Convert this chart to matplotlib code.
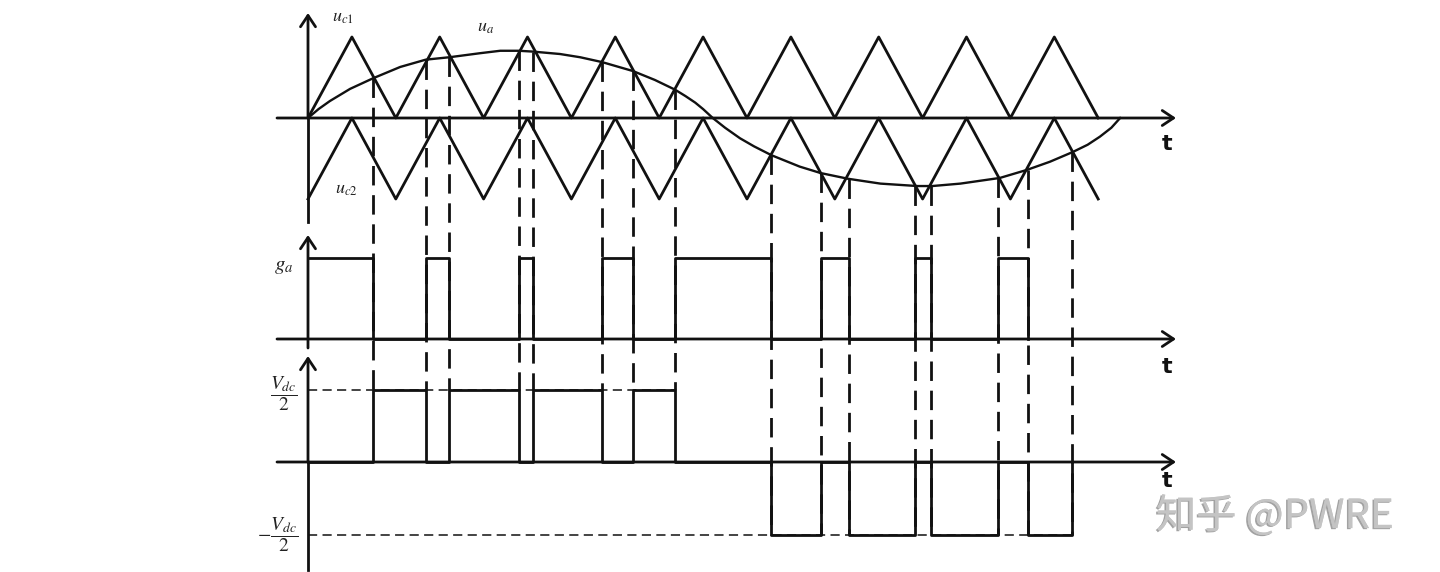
import matplotlib
matplotlib.use("Agg")
import matplotlib.pyplot as plt
import matplotlib.patheffects as pe

plt.rcParams['mathtext.fontset'] = 'stix'

# time is in carrier periods, amplitudes normalised to the carrier peak
carrier_t = [0, 0.5, 1, 1.5, 2, 2.5, 3, 3.5, 4, 4.5, 5, 5.5, 6, 6.5, 7, 7.5, 8, 8.5, 9]
uc1 = [0, 1, 0, 1, 0, 1, 0, 1, 0, 1, 0, 1, 0, 1, 0, 1, 0, 1, 0]
uc2 = [-1, 0, -1, 0, -1, 0, -1, 0, -1, 0, -1, 0, -1, 0, -1, 0, -1, 0, -1]

# modulating wave ua
ua_t = [0, 0.12, 0.25, 0.48, 0.74, 1.05, 1.34, 1.61, 1.96, 2.19, 2.40, 2.56,
        2.87, 3.10, 3.35, 3.70, 3.95, 4.18, 4.30, 4.41, 4.50, 4.61, 4.75, 4.92,
        5.08, 5.28, 5.60, 5.84, 6.15, 6.52, 6.94, 7.11, 7.43, 7.88, 8.19, 8.45,
        8.71, 8.88, 9.02, 9.15, 9.25]
ua = [0, 0.11, 0.21, 0.36, 0.49, 0.63, 0.72, 0.75, 0.80, 0.83, 0.83, 0.82,
      0.79, 0.75, 0.69, 0.58, 0.47, 0.35, 0.27, 0.19, 0.11, 0.0, -0.12, -0.25,
      -0.35, -0.46, -0.60, -0.68, -0.75, -0.81, -0.84, -0.84, -0.81, -0.74, -0.64, -0.54,
      -0.42, -0.33, -0.23, -0.12, 0.0]

# crossing instants (dashed lines) and the ua value at each crossing
switch_t = [0.74, 1.344, 1.606, 2.403, 2.563, 3.349, 3.702, 4.18,
            5.273, 5.843, 6.162, 6.913, 7.096, 7.859, 8.2, 8.702]
switch_ua = [0.49, 0.72, 0.75, 0.83, 0.82, 0.69, 0.58, 0.35,
             -0.46, -0.68, -0.75, -0.84, -0.84, -0.74, -0.64, -0.42]

# gate signal ga (step, post)
ga_t = [0, 0.74, 1.344, 1.606, 2.403, 2.563, 3.349, 3.702, 4.18,
        5.273, 5.843, 6.162, 6.913, 7.096, 7.859, 8.2]
ga = [1, 0, 1, 0, 1, 0, 1, 0, 1, 0, 1, 0, 1, 0, 1, 0]

# output voltage in units of Vdc/2 (step, post)
vo_t = [0, 0.74, 1.344, 1.606, 2.403, 2.563, 3.349, 3.702, 4.18,
        5.273, 5.843, 6.162, 6.913, 7.096, 7.859, 8.2, 8.702]
vo = [0, 1, 0, 1, 0, 1, 0, 1, 0, -1, 0, -1, 0, -1, 0, -1, 0]

W, H = 1440, 572
X0, XS = 308, 87.8          # pixel of t=0 and pixels per carrier period
K = '#111111'
LW = 2.0

fig = plt.figure(figsize=(W / 100, H / 100), dpi=100)


def t_of(px):
    return (px - X0) / XS


def band(y0, y1, zero, scale):
    ax = fig.add_axes([0, 1 - y1 / H, 1, (y1 - y0) / H])
    ax.set_xlim(t_of(0), t_of(W))
    ax.set_ylim((zero - y1) / scale, (zero - y0) / scale)
    ax.axis('off')
    return ax


def arrow(ax, x0, y0, x1, y1):
    ax.annotate('', xy=(x1, y1), xytext=(x0, y0), annotation_clip=False,
                arrowprops=dict(arrowstyle='->,head_length=0.45,head_width=0.3',
                                lw=LW, color=K, shrinkA=0, shrinkB=0,
                                mutation_scale=18))


def px_text(x, y, s, **kw):
    fig.text(x / W, 1 - y / H, s, ha='center', va='center', **kw)


ax_top = band(0, 228, 118, 81)
ax_g = band(228, 350, 339, 81)
ax_v = band(350, 572, 462, 72.5)

# top panel: carriers and reference
ax_top.plot(carrier_t, uc1, color=K, lw=LW, clip_on=False)
ax_top.plot(carrier_t, uc2, color=K, lw=LW, clip_on=False)
ax_top.plot(ua_t, ua, color=K, lw=1.7, clip_on=False, solid_joinstyle='round')
arrow(ax_top, t_of(277), 0, t_of(1176), 0)
ax_top.plot([0, 0], [(118 - 222) / 81, 0], color=K, lw=LW)
arrow(ax_top, 0, 0, 0, (118 - 13) / 81)

# gate panel
ax_g.plot(ga_t, ga, drawstyle='steps-post', color=K, lw=LW, clip_on=False)
arrow(ax_g, t_of(277), 0, t_of(1176), 0)
arrow(ax_g, 0, (339 - 348) / 81, 0, (339 - 235) / 81)

# voltage panel
ax_v.plot([0, switch_t[7]], [1, 1], color=K, lw=1.1, ls=(0, (6, 3.5)))
ax_v.plot([0, switch_t[-1]], [-1, -1], color=K, lw=1.1, ls=(0, (6, 3.5)))
ax_v.plot(vo_t, vo, drawstyle='steps-post', color=K, lw=LW, clip_on=False)
arrow(ax_v, t_of(277), 0, t_of(1176), 0)
ax_v.plot([0, 0], [(462 - 570) / 72.5, 0], color=K, lw=LW)
arrow(ax_v, 0, 0, 0, (462 - 356) / 72.5)

# dashed projections from the crossings down to the output level
for t, u in zip(switch_t, switch_ua):
    disp = ax_top.transData.transform((t, u))
    y_top = ax_v.transData.inverted().transform(disp)[1]
    level = 1 if u > 0 else -1
    ax_v.plot([t, t], [y_top, level], color=K, lw=LW, ls=(0, (7, 3.5)),
              clip_on=False)

# labels
lab = dict(color='#222222')
px_text(343, 17, r'$u_{c1}$', fontsize=13, **lab)
px_text(486, 27, r'$u_{a}$', fontsize=13, **lab)
px_text(346, 189, r'$u_{c2}$', fontsize=13, **lab)
px_text(284, 266, r'$g_{a}$', fontsize=15, **lab)
px_text(284, 394, r'$\dfrac{V_{dc}}{2}$', fontsize=14, **lab)
px_text(278, 535, r'$-\dfrac{V_{dc}}{2}$', fontsize=14, **lab)

for y in (144, 367, 481):
    px_text(1167, y, 't', fontsize=16, fontweight='bold', color=K,
            family='DejaVu Sans')

fig.text(1275 / W, 1 - 516 / H, '知乎 @PWRE', ha='center', va='center',
         fontsize=29, color='#c4c4c4', family=['Noto Sans CJK SC', 'DejaVu Sans'],
         path_effects=[pe.withSimplePatchShadow(offset=(-1.2, -0.8),
                                                shadow_rgbFace='#a2a2a2', alpha=1),
                       pe.Normal()])

fig.savefig('out.png', dpi=100, facecolor='white')
